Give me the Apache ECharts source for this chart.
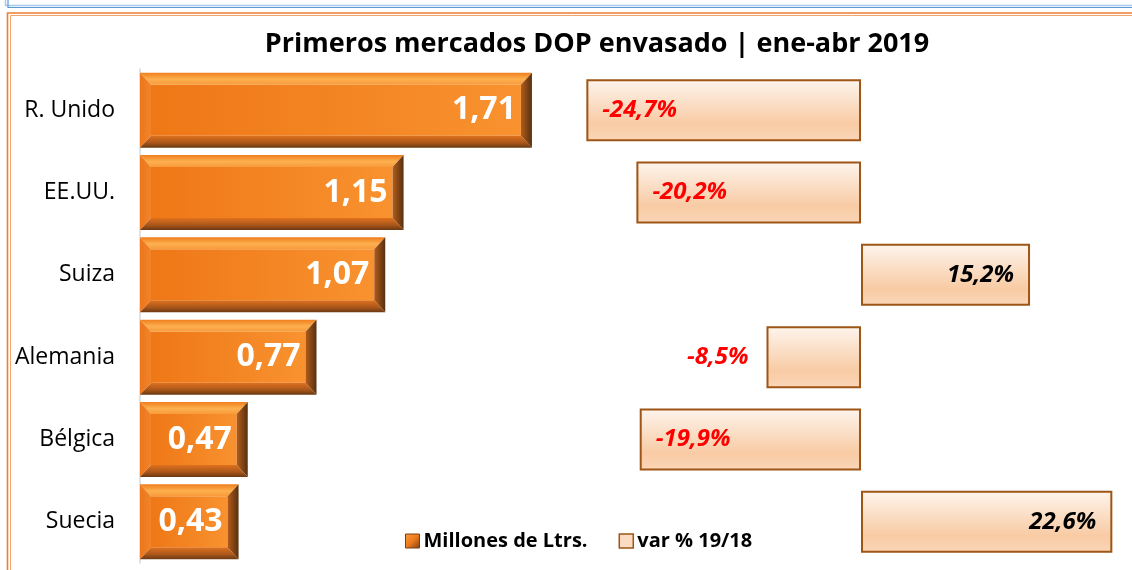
<!DOCTYPE html>
<html>
<head>
<meta charset="utf-8">
<script src="https://cdn.jsdelivr.net/npm/echarts@6/dist/echarts.min.js"></script>
<style>
  html, body { margin: 0; padding: 0; background: #fff; }
  #chart { width: 1132px; height: 570px; }
</style>
</head>
<body>
<div id="chart"></div>
<script>
var categories = ['R. Unido', 'EE.UU.', 'Suiza', 'Alemania', 'Bélgica', 'Suecia'];
var volumes = [1.71, 1.15, 1.07, 0.77, 0.47, 0.43];
var changes = [-24.7, -20.2, 15.2, -8.5, -19.9, 22.6];
var seriesNames = ['Millones de Ltrs.', 'var % 19/18'];
var titleText = 'Primeros mercados DOP envasado | ene-abr 2019';

var FONT = '"Open Sans", sans-serif';
var LG = echarts.graphic.LinearGradient;

function fmt(v, d) {
  return v.toFixed(d).replace('.', ',');
}

// bevelled orange bar, like the Excel preset
function renderBevel(params, api) {
  var idx = api.value(1);
  var val = api.value(0);
  var start = api.coord([0, idx]);
  var end = api.coord([val, idx]);
  var h = 75;
  var x0 = start[0], x1 = end[0];
  var y0 = start[1] - h / 2, y1 = start[1] + h / 2;
  var bx = 11, by = 12;
  var ix0 = x0 + bx, ix1 = x1 - bx, iy0 = y0 + by, iy1 = y1 - by;
  return {
    type: 'group',
    children: [
      {
        type: 'rect',
        shape: { x: ix0, y: iy0, width: ix1 - ix0, height: iy1 - iy0 },
        style: { fill: new LG(0, 0, 1, 0, [{ offset: 0, color: '#EF7716' }, { offset: 1, color: '#F8922F' }]) }
      },
      {
        type: 'polygon',
        shape: { points: [[x0, y0], [x1, y0], [ix1, iy0], [ix0, iy0]] },
        style: { fill: new LG(0, 0, 0, 1, [{ offset: 0, color: '#F07E1E' }, { offset: 0.55, color: '#FDB04F' }, { offset: 1, color: '#F89A3A' }]) }
      },
      {
        type: 'polygon',
        shape: { points: [[x0, y0], [ix0, iy0], [ix0, iy1], [x0, y1]] },
        style: { fill: new LG(0, 0, 1, 0, [{ offset: 0, color: '#EC761B' }, { offset: 1, color: '#F2842A' }]) }
      },
      {
        type: 'polygon',
        shape: { points: [[x0, y1], [x1, y1], [ix1, iy1], [ix0, iy1]] },
        style: { fill: new LG(0, 0, 0, 1, [{ offset: 0, color: '#DF711E' }, { offset: 0.6, color: '#A9561A' }, { offset: 1, color: '#6A3812' }]) }
      },
      {
        type: 'polygon',
        shape: { points: [[x1, y0], [ix1, iy0], [ix1, iy1], [x1, y1]] },
        style: { fill: new LG(0, 0, 1, 0, [{ offset: 0, color: '#B35C1B' }, { offset: 1, color: '#57300F' }]) }
      },
      {
        type: 'text',
        style: {
          text: fmt(val, 2),
          x: x1 - 16,
          y: start[1],
          align: 'right',
          verticalAlign: 'middle',
          fill: '#fff',
          font: 'bold 32px ' + FONT
        }
      }
    ]
  };
}

var chart = echarts.init(document.getElementById('chart'));

chart.setOption({
  animation: false,
  textStyle: { fontFamily: FONT },
  title: {
    text: titleText,
    left: 592,
    top: 26,
    textAlign: 'center',
    textStyle: { fontSize: 27, fontWeight: 'bold', color: '#000', fontFamily: FONT }
  },
  legend: {
    left: 405,
    top: 531,
    padding: 0,
    icon: 'rect',
    itemWidth: 14,
    itemHeight: 14,
    itemGap: 31,
    textStyle: { fontSize: 20, fontWeight: 'bold', color: '#000', fontFamily: FONT, padding: [0, 0, 0, -1] },
    data: [
      {
        name: seriesNames[0],
        itemStyle: {
          color: new LG(0, 0, 1, 1, [{ offset: 0, color: '#F9A040' }, { offset: 0.5, color: '#EE7A1C' }, { offset: 1, color: '#7A4014' }]),
          borderColor: '#7A4014',
          borderWidth: 1
        }
      },
      {
        name: seriesNames[1],
        itemStyle: { color: '#FBDCC2', borderColor: '#9E5516', borderWidth: 1.5 }
      }
    ]
  },
  graphic: [
    { type: 'polyline', shape: { points: [[5.5, 0], [5.5, 5.5], [1132, 5.5]] }, style: { stroke: '#A9C7EA', lineWidth: 1.5, fill: null } },
    { type: 'polyline', shape: { points: [[8, 0], [8, 7.5], [1132, 7.5]] }, style: { stroke: '#5B9BD5', lineWidth: 1.2, fill: null } },
    { type: 'polyline', shape: { points: [[7.5, 570], [7.5, 13], [1132, 13]] }, style: { stroke: '#ED7D31', lineWidth: 1.6, fill: null } },
    { type: 'polyline', shape: { points: [[10.5, 570], [10.5, 15.5], [1132, 15.5]] }, style: { stroke: '#F1A46E', lineWidth: 1, fill: null } }
  ],
  grid: [
    { left: 140, top: 69, width: 458.4, height: 494 },
    { left: 527.4, top: 69, width: 600.5, height: 494 }
  ],
  xAxis: [
    { gridIndex: 0, type: 'value', min: 0, max: 2, show: false },
    { gridIndex: 1, type: 'value', min: -30, max: 24, show: false }
  ],
  yAxis: [
    {
      gridIndex: 0,
      type: 'category',
      inverse: true,
      data: categories,
      axisLine: { lineStyle: { color: '#D9D9D9', width: 1.5 } },
      axisTick: { show: false },
      axisLabel: { fontSize: 23, color: '#000', margin: 25, fontFamily: FONT }
    },
    {
      gridIndex: 1,
      type: 'category',
      inverse: true,
      data: categories,
      show: false
    }
  ],
  series: [
    {
      name: seriesNames[0],
      type: 'custom',
      xAxisIndex: 0,
      yAxisIndex: 0,
      renderItem: renderBevel,
      encode: { x: 0, y: 1 },
      data: volumes.map(function (v, i) { return [v, i]; })
    },
    {
      name: seriesNames[1],
      type: 'bar',
      xAxisIndex: 1,
      yAxisIndex: 1,
      barWidth: 62,
      itemStyle: {
        color: new LG(0, 0, 0, 1, [
          { offset: 0, color: '#FEF5EE' },
          { offset: 0.72, color: '#F8CBA4' },
          { offset: 1, color: '#FAD6B8' }
        ]),
        borderColor: '#9E5516',
        borderWidth: 2
      },
      data: changes.map(function (v) {
        var pos = v < 0 ? (v > -10 ? 'left' : 'insideLeft') : 'insideRight';
        return {
          value: v,
          label: {
            show: true,
            position: pos,
            distance: pos === 'left' ? 18 : 16,
            color: v < 0 ? '#FF0000' : '#000',
            fontSize: 24,
            fontWeight: 'bold',
            fontStyle: 'italic',
            fontFamily: FONT,
            formatter: function (p) { return fmt(p.value, 1) + '%'; }
          }
        };
      })
    }
  ]
});
</script>
</body>
</html>
